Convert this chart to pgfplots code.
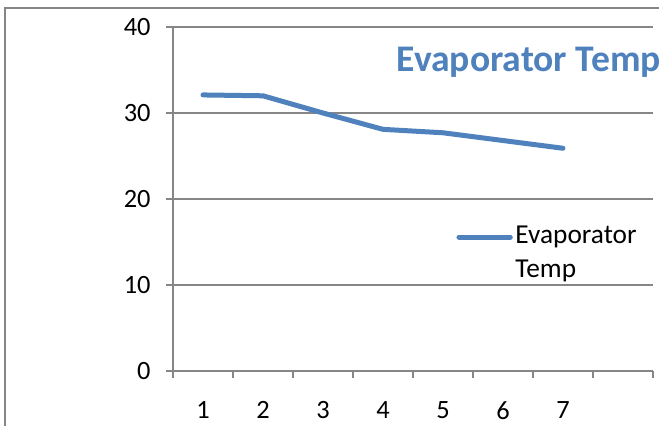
\documentclass[border=0pt]{standalone}
\usepackage{pgfplots}
\pgfplotsset{compat=1.18}
\usepackage{fontspec}
\setmainfont{Carlito}
\definecolor{serblue}{HTML}{4F81BD}
\definecolor{gridgray}{HTML}{868686}
\begin{document}
\begin{tikzpicture}
\path[use as bounding box] (0,0) rectangle (494.25pt,318.75pt);
\draw[gridgray, line width=1.1pt] (3.75pt,-50pt) rectangle (560pt,312.75pt);
\begin{axis}[
  at={(129.75pt,40.5pt)}, anchor=south west,
  scale only axis, width=360pt, height=258pt,
  xmin=0.5, xmax=8.5, ymin=0, ymax=40,
  axis lines*=left,
  axis line style={gridgray, line width=0.9pt},
  xtick={1,2,3,4,5,6,7},
  minor xtick={0.5,1.5,2.5,3.5,4.5,5.5,6.5,7.5,8.5},
  ytick={0,10,20,30,40},
  tick align=outside,
  major tick length=5.25pt, minor tick length=5.25pt,
  xtick style={draw=none},
  minor x tick style={gridgray, line width=0.9pt, draw=gridgray},
  ytick style={gridgray, line width=0.9pt},
  ymajorgrids,
  grid style={gridgray, line width=0.9pt},
  tick label style={font=\fontsize{19.8}{24}\selectfont, text=black},
  xticklabel style={yshift=-17.3pt, inner sep=0pt},
  yticklabel style={xshift=-8pt},
  /pgf/number format/assume math mode=true,
  title={Evaporator Temp},
  title style={at={(rel axis cs:0.741,0.875)}, anchor=center, font=\fontsize{28.2}{32}\bfseries\selectfont, text=serblue},
  legend style={draw=none, fill=none, at={(rel axis cs:0.59,0.374)}, anchor=west, font=\fontsize{20.5}{24}\selectfont, inner sep=0pt},
  legend cell align=left,
  legend image code/.code={\draw[#1, line width=3.75pt, line cap=round] (1.5pt,4pt) -- (40pt,4pt);},
]
\addplot[serblue, line width=3.75pt, line cap=round, line join=round, mark=none]
  coordinates {(1,32.1) (2,32.0) (3,30.0) (4,28.1) (5,27.7) (6,26.8) (7,25.9)};
\addlegendentry{\begin{tabular}{@{}l@{}}Evaporator\\[1pt]Temp\end{tabular}}
\end{axis}
\end{tikzpicture}
\end{document}
